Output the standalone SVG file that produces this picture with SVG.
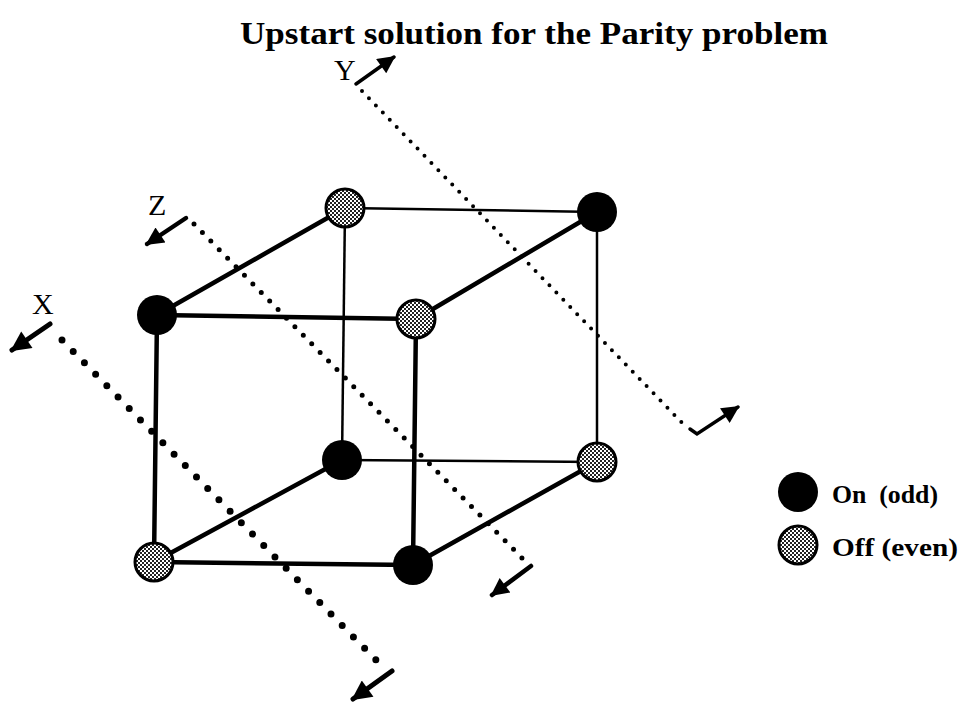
<svg xmlns="http://www.w3.org/2000/svg" width="960" height="702" viewBox="0 0 960 702">
<style>
.t{font-family:"Liberation Serif","Times New Roman",serif;fill:#000}
.thick{stroke:#000;stroke-width:4.5;fill:none;stroke-linecap:round}
.thin{stroke:#000;stroke-width:2.5;fill:none}
.on{fill:#000}
.off{fill:url(#hatch);stroke:#000;stroke-width:3}
.ax{stroke:#000;fill:none;stroke-linecap:round}
</style>
<defs>
<pattern id="hatch" width="4" height="4" patternUnits="userSpaceOnUse">
<rect width="4" height="4" fill="#fff"/>
<rect width="2" height="2" fill="#222"/>
<rect x="2" y="2" width="2" height="2" fill="#222"/>
</pattern>
<marker id="ah" viewBox="0 0 10 10" refX="9" refY="5" markerWidth="4.5" markerHeight="4" orient="auto" markerUnits="strokeWidth">
<path d="M0,0 L10,5 L0,10 Z" fill="#000"/>
</marker>
<marker id="ahs" viewBox="0 0 10 10" refX="9" refY="5" markerWidth="5.5" markerHeight="5" orient="auto" markerUnits="strokeWidth">
<path d="M0,0 L10,5 L0,10 Z" fill="#000"/>
</marker>
</defs>
<rect width="960" height="702" fill="#fff"/>
<text class="t" x="534" y="44" font-size="31" font-weight="bold" text-anchor="middle" textLength="588" lengthAdjust="spacingAndGlyphs">Upstart solution for the Parity problem</text>
<g id="axes">
<g id="axis-x">
<line class="ax" x1="62" y1="340" x2="382" y2="666" stroke-width="7" stroke-dasharray="0 16"/>
<line class="ax" x1="50" y1="324" x2="12" y2="350" stroke-width="5" marker-end="url(#ah)"/>
<line class="ax" x1="392" y1="671" x2="353" y2="699" stroke-width="5" marker-end="url(#ah)"/>
<text class="t" x="32" y="314" font-size="30">X</text>
</g>
<g id="axis-z">
<line class="ax" x1="194" y1="224" x2="524" y2="560" stroke-width="5" stroke-dasharray="0 12"/>
<line class="ax" x1="186" y1="218" x2="147" y2="244" stroke-width="4.5" marker-end="url(#ah)"/>
<line class="ax" x1="531" y1="566" x2="492" y2="595" stroke-width="4.5" marker-end="url(#ah)"/>
<text class="t" x="148" y="215" font-size="30">Z</text>
</g>
<g id="axis-y">
<line class="ax" x1="362" y1="91" x2="687" y2="428" stroke-width="4" stroke-dasharray="0 10"/>
<line class="ax" x1="356" y1="84" x2="394" y2="57" stroke-width="3.5" marker-end="url(#ahs)"/>
<polyline class="ax" points="690,429 697,434 738,407" stroke-width="3.5" stroke-linejoin="miter" marker-end="url(#ahs)"/>
<text class="t" x="334" y="80" font-size="30">Y</text>
</g>
</g>
<g id="edges">
<line class="thin" x1="345" y1="208" x2="597" y2="212"/>
<line class="thin" x1="345" y1="208" x2="342" y2="460"/>
<line class="thin" x1="597" y1="212" x2="597" y2="462"/>
<line class="thin" x1="342" y1="460" x2="597" y2="462"/>
<line class="thick" x1="157" y1="315" x2="345" y2="208"/>
<line class="thick" x1="416" y1="319" x2="597" y2="212"/>
<line class="thick" x1="154" y1="562" x2="342" y2="460"/>
<line class="thick" x1="413" y1="565" x2="597" y2="462"/>
<line class="thick" x1="157" y1="315" x2="416" y2="319"/>
<line class="thick" x1="157" y1="315" x2="154" y2="562"/>
<line class="thick" x1="416" y1="319" x2="413" y2="565"/>
<line class="thick" x1="154" y1="562" x2="413" y2="565"/>
</g>
<g id="n-ftl"><circle class="on" cx="157" cy="315" r="20"/></g>
<g id="n-ftr"><circle class="off" cx="416" cy="319" r="19"/></g>
<g id="n-fbl"><circle class="off" cx="154" cy="562" r="19"/></g>
<g id="n-fbr"><circle class="on" cx="413" cy="565" r="20"/></g>
<g id="n-btl"><circle class="off" cx="345" cy="208" r="19"/></g>
<g id="n-btr"><circle class="on" cx="597" cy="212" r="20"/></g>
<g id="n-bbl"><circle class="on" cx="342" cy="460" r="20"/></g>
<g id="n-bbr"><circle class="off" cx="597" cy="462" r="19"/></g>
<g id="legend">
<circle class="on" cx="798" cy="492" r="20"/>
<text class="t" x="832" y="503" font-size="25" font-weight="bold" xml:space="preserve" textLength="106" lengthAdjust="spacingAndGlyphs">On  (odd)</text>
<circle class="off" cx="798" cy="545" r="19"/>
<text class="t" x="832" y="556" font-size="25" font-weight="bold" textLength="126" lengthAdjust="spacingAndGlyphs">Off (even)</text>
</g>
</svg>
